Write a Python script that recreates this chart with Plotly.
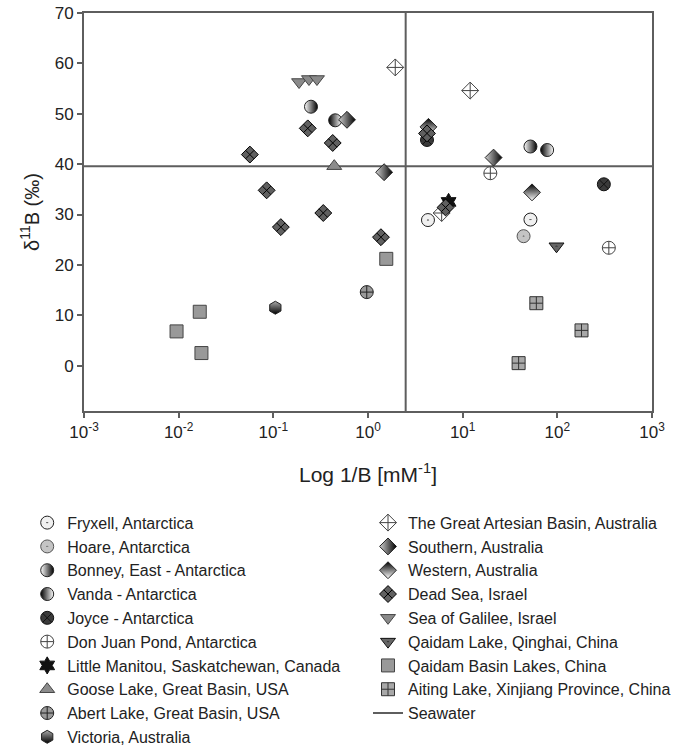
import plotly.graph_objects as go

# ---------------- data ----------------
fryxell_x = [4.3, 52]
fryxell_y = [28.9, 29.0]
hoare_x = [44]
hoare_y = [25.7]
bonney_x = [0.25, 52]
bonney_y = [51.4, 43.5]
vanda_x = [0.45, 78]
vanda_y = [48.7, 42.8]
joyce_x = [4.2, 310]
joyce_y = [44.8, 36.0]
donjuan_x = [19.6, 350]
donjuan_y = [38.2, 23.4]
manitou_x = [7.1]
manitou_y = [32.5]
goose_x = [0.44]
goose_y = [39.6]
abert_x = [0.97]
abert_y = [14.6]
victoria_x = [0.105]
victoria_y = [11.5]
artesian_x = [1.94, 12.0, 6.0]
artesian_y = [59.2, 54.6, 30.3]
southern_x = [0.60, 1.48, 21.2]
southern_y = [48.8, 38.4, 41.3]
western_x = [4.35, 54]
western_y = [47.4, 34.4]
deadsea_x = [0.231, 0.424, 0.0565, 0.085, 0.120, 0.337, 1.37, 4.2, 6.6]
deadsea_y = [47.1, 44.2, 41.9, 34.8, 27.5, 30.3, 25.5, 46.1, 31.4]
galilee_x = [0.187, 0.238, 0.289]
galilee_y = [56.3, 56.9, 56.9]
qaidamlake_x = [98]
qaidamlake_y = [23.7]
qaidambasin_x = [0.0095, 0.0167, 0.0174, 1.56]
qaidambasin_y = [6.8, 10.7, 2.5, 21.2]
aiting_x = [60, 180, 39]
aiting_y = [12.4, 7.0, 0.5]

seawater_inv_b = 2.5
seawater_d11b = 39.6

x_range = [1e-3, 1e3]
y_range = [-9, 70]
x_tickvals = [1e-3, 1e-2, 1e-1, 1e0, 1e1, 1e2, 1e3]
x_ticktext = ["10<sup>-3</sup>", "10<sup>-2</sup>", "10<sup>-1</sup>", "10<sup>0</sup>",
              "10<sup>1</sup>", "10<sup>2</sup>", "10<sup>3</sup>"]
y_tickvals = [0, 10, 20, 30, 40, 50, 60, 70]

FONT = "Liberation Sans, Arial, sans-serif"
TXT = "#222222"
AXC = "#5e5e5e"

fig = go.Figure()

def add(name, xs, ys, symbol, color, line="#333333", legend="legend",
        gradient=None, size=13, lw=1):
    marker = dict(symbol=symbol, color=color, size=size,
                  line=dict(color=line, width=lw))
    if gradient:
        marker["gradient"] = gradient
    fig.add_trace(go.Scatter(x=xs, y=ys, mode="markers", name=name,
                             marker=marker, legend=legend))

# seawater reference lines (drawn below markers)
fig.add_trace(go.Scatter(
    x=[x_range[0], x_range[1], None, seawater_inv_b, seawater_inv_b],
    y=[seawater_d11b, seawater_d11b, None, y_range[0], y_range[1]],
    mode="lines", name="Seawater", line=dict(color=AXC, width=2),
    legend="legend2", legendrank=1100))

left = [
    ("Fryxell, Antarctica", fryxell_x, fryxell_y, "circle-dot", "#f0f0f0", "#222222", None),
    ("Hoare, Antarctica", hoare_x, hoare_y, "circle-dot", "#c4c4c4", "#555555", None),
    ("Bonney, East - Antarctica", bonney_x, bonney_y, "circle", "#ffffff", "#222222",
     dict(type="horizontal", color="#000000")),
    ("Vanda - Antarctica", vanda_x, vanda_y, "circle", "#000000", "#222222",
     dict(type="horizontal", color="#ffffff")),
    ("Joyce - Antarctica", joyce_x, joyce_y, "circle-x", "#3a3a3a", "#111111", None),
    ("Don Juan Pond, Antarctica", donjuan_x, donjuan_y, "circle-cross", "#ffffff", "#444444", None),
    ("Little Manitou, Saskatchewan, Canada", manitou_x, manitou_y, "hexagram", "#111111", "#111111", None),
    ("Goose Lake, Great Basin, USA", goose_x, goose_y, "triangle-up", "#8c8c8c", "#444444", None),
    ("Abert Lake, Great Basin, USA", abert_x, abert_y, "circle-cross", "#9a9a9a", "#222222", None),
    ("Victoria, Australia", victoria_x, victoria_y, "hexagon", "#aaaaaa", "#222222",
     dict(type="vertical", color="#000000")),
]
right = [
    ("The Great Artesian Basin, Australia", artesian_x, artesian_y, "diamond-cross", "#ffffff", "#444444", None),
    ("Southern, Australia", southern_x, southern_y, "diamond", "#d0d0d0", "#222222",
     dict(type="horizontal", color="#000000")),
    ("Western, Australia", western_x, western_y, "diamond", "#000000", "#222222",
     dict(type="vertical", color="#ffffff")),
    ("Dead Sea, Israel", deadsea_x, deadsea_y, "diamond-x", "#606060", "#000000", None),
    ("Sea of Galilee, Israel", galilee_x, galilee_y, "triangle-down", "#8a8a8a", "#444444", None),
    ("Qaidam Lake, Qinghai, China", qaidamlake_x, qaidamlake_y, "triangle-down-dot", "#666666", "#111111", None),
    ("Qaidam Basin Lakes, China", qaidambasin_x, qaidambasin_y, "square", "#999999", "#444444", None),
    ("Aiting Lake, Xinjiang Province, China", aiting_x, aiting_y, "square-cross", "#a8a8a8", "#333333", None),
]

for i, (n, xs, ys, s, c, l, g) in enumerate(left):
    add(n, xs, ys, s, c, l, "legend", g)
    fig.data[-1].legendrank = 100 + i
for i, (n, xs, ys, s, c, l, g) in enumerate(right):
    add(n, xs, ys, s, c, l, "legend2", g)
    fig.data[-1].legendrank = 1000 + i

axis_common = dict(showline=True, linecolor=AXC, linewidth=2, mirror=True,
                   ticks="outside", ticklen=5, tickwidth=1.5, tickcolor=AXC,
                   showgrid=False, zeroline=False,
                   tickfont=dict(family=FONT, size=17, color=TXT))

fig.update_xaxes(type="log", range=[-3, 3], tickvals=x_tickvals, ticktext=x_ticktext,
                 title=dict(text="Log 1/B [mM<sup>-1</sup>]",
                            font=dict(family=FONT, size=21, color=TXT), standoff=26),
                 **axis_common)
fig.update_yaxes(range=y_range, tickvals=y_tickvals,
                 title=dict(text="δ<sup>11</sup>B (‰)",
                            font=dict(family=FONT, size=20, color=TXT), standoff=10),
                 **axis_common)

leg_common = dict(orientation="v", xanchor="left", yanchor="top",
                  font=dict(family=FONT, size=16, color=TXT),
                  bgcolor="rgba(0,0,0,0)", borderwidth=0)
fig.update_layout(
    width=686, height=748,
    margin=dict(l=84, r=34, t=13, b=337, autoexpand=False),
    plot_bgcolor="white", paper_bgcolor="white",
    font=dict(family=FONT, color=TXT),
    legend=dict(x=-0.10, y=-0.238, **leg_common),
    legend2=dict(x=0.50, y=-0.238, **leg_common),
)

fig.write_html("out.html")
